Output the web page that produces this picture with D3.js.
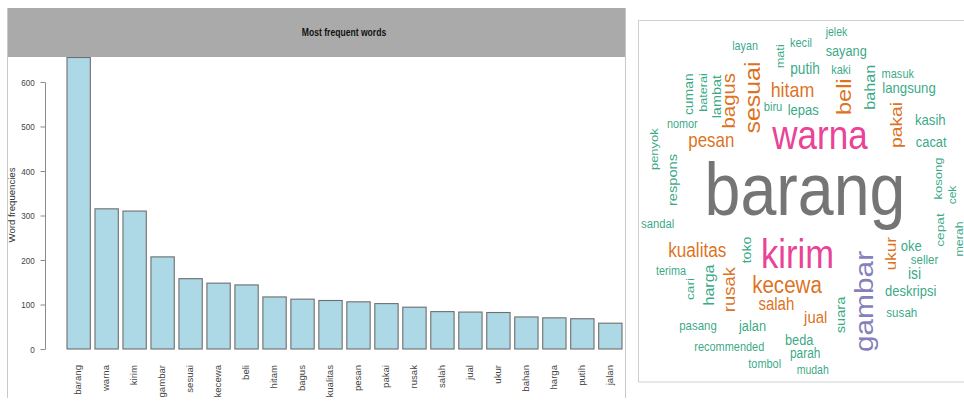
<!DOCTYPE html>
<html>
<head>
<meta charset="utf-8">
<script src="https://cdn.jsdelivr.net/npm/d3@7"></script>
<style>
  body { margin: 0; background: #fff; }
  svg { display: block; font-family: "Liberation Sans", Arial, sans-serif; }
</style>
</head>
<body>
<div id="plot"></div>
<script>
// bar chart: top 20 words
const words = ["barang","warna","kirim","gambar","sesuai","kecewa","beli","hitam","bagus","kualitas",
               "pesan","pakai","rusak","salah","jual","ukur","bahan","harga","putih","jalan"];
const freqs = [655,315,310,207,158,148,144,117,112,109,106,102,94,84,83,82,72,70,68,58];
const yTicks = [0,100,200,300,400,500,600];

// word cloud: word, frequency, layout position (cloud units), vertical flag
const cloudWords = ["barang","warna","kirim","gambar","sesuai","kecewa","beli","hitam","bagus","kualitas",
  "pesan","pakai","rusak","salah","jual","ukur","bahan","harga","putih","jalan",
  "layan","mati","kecil","jelek","sayang","kaki","masuk","langsung","kasih","cacat",
  "kosong","cek","cepat","merah","oke","seller","isi","deskripsi","susah","suara",
  "cari","terima","toko","sandal","pasang","recommended","tombol","beda","parah","mudah",
  "lambat","baterai","cuman","biru","lepas","nomor","penyok","respons"];
const cloudFreq = [655,315,310,207,158,148,144,117,112,109,106,102,94,84,83,82,72,70,68,58,
  35,37,38,32,58,37,38,63,63,60,
  40,30,47,34,61,44,72,61,45,56,
  45,36,51,41,43,37,37,58,48,32,
  54,36,49,40,61,36,39,56];
const cloudX = [167,182,159.5,228.4,116.5,149,207.5,154.5,92.6,59.3,
  73.3,260,93.2,138.3,177.7,253.8,233.4,72,167,114.5,
  107,142.8,163,198.5,208.2,203,259.8,271,292.3,293.2,
  301.3,315,302.5,322.2,273.2,286.5,276.5,272.7,263.8,203.5,
  53.3,33,109.8,19.7,60,91.3,126.7,161.2,167.2,174.7,
  79.8,65.9,52.2,135,165.2,44.3,17,36];
const cloudY = [175,118,237.5,281.5,77.5,266.7,76.7,71.8,80.8,232.2,
  121.7,105,269.7,285.5,298.3,233.7,67.2,265,50.3,306.7,
  26.7,36.3,23.7,12.8,31.7,50.5,54.2,69.2,100.5,123.2,
  158.5,175,210,219,226.8,240.7,254.8,272,293.3,295,
  269,251.7,230,205,306.7,327.3,345,321.2,334.5,351.2,
  76.7,72.5,74.2,88,91.2,105,129.2,160];
const cloudRot = [0,0,0,1,1,0,1,0,1,0,
  0,1,1,0,0,1,1,1,0,0,
  0,1,0,0,0,0,0,0,0,0,
  1,1,1,1,0,0,0,0,0,1,
  1,0,1,0,0,0,0,0,0,0,
  1,1,1,0,0,0,1,1];

const dark2 = ["#1b9e77","#d95f02","#7570b3","#e7298a","#66a61e","#e6ab02","#a6761d","#666666"];
const squeeze = 0.86; // the reference picture is slightly narrowed

const svg = d3.select("#plot").append("svg")
  .attr("width", 964)
  .attr("height", 409);

// ---------- left panel: bar chart ----------
const left = svg.append("g");

const x = d3.scaleBand()
  .domain(words)
  .range([67, 622])
  .paddingInner(1 / 6)
  .paddingOuter(0);

const y = d3.scaleLinear()
  .domain([0, 600])
  .range([349, 82]);

left.selectAll(".bar")
  .data(words)
  .enter()
  .append("rect")
  .attr("class", "bar")
  .attr("x", d => x(d))
  .attr("y", (d, i) => y(freqs[i]))
  .attr("width", x.bandwidth())
  .attr("height", (d, i) => y(0) - y(freqs[i]))
  .style("fill", "#add8e6")
  .style("stroke", "#6e6e6e")
  .style("stroke-width", 1.1);

// header strip and frame
left.append("rect")
  .attr("x", 7).attr("y", 8)
  .attr("width", 618).attr("height", 49)
  .style("fill", "#aaaaaa");

left.append("line")
  .attr("x1", 7.5).attr("x2", 7.5).attr("y1", 8).attr("y2", 398)
  .style("stroke", "#c8c8c8");
left.append("line")
  .attr("x1", 625.5).attr("x2", 625.5).attr("y1", 8).attr("y2", 398)
  .style("stroke", "#c8c8c8");

left.append("text")
  .attr("transform", `translate(344,35.5) scale(${squeeze},1)`)
  .attr("text-anchor", "middle")
  .style("font-size", "10px")
  .style("font-weight", "bold")
  .style("fill", "#111")
  .text("Most frequent words");

// y axis
const yAxis = left.append("g")
  .attr("transform", "translate(45,0)")
  .call(d3.axisLeft(y).tickValues(yTicks).tickSize(4.5).tickSizeOuter(0));

yAxis.select(".domain").style("stroke", "#8a8a8a");
yAxis.selectAll(".tick line").style("stroke", "#8a8a8a");
yAxis.selectAll(".tick text")
  .attr("x", -12)
  .attr("transform", `scale(${squeeze},1)`)
  .style("font-size", "9.4px")
  .style("font-family", "'Liberation Sans', Arial, sans-serif")
  .style("fill", "#444");

left.append("text")
  .attr("transform", `translate(12.5,205) scale(${squeeze},1) rotate(-90)`)
  .attr("text-anchor", "middle")
  .attr("dy", "0.26em")
  .style("font-size", "9.6px")
  .style("fill", "#333")
  .text("Word frequencies");

// x labels, vertical
left.selectAll(".xlab")
  .data(words)
  .enter()
  .append("text")
  .attr("class", "xlab")
  .attr("transform", d => `translate(${x(d) + x.bandwidth() / 2},365) scale(${squeeze},1) rotate(-90)`)
  .attr("text-anchor", "end")
  .attr("dy", "0.33em")
  .style("font-size", "9.6px")
  .style("fill", "#444")
  .text(d => d);

// ---------- right panel: word cloud ----------
const right = svg.append("g");

right.append("rect")
  .attr("x", 638.5).attr("y", 20.5)
  .attr("width", 340).attr("height", 361.5)
  .style("fill", "none")
  .style("stroke", "#d0d0d0");

const cx = d3.scaleLinear().domain([0, 326]).range([638, 964]);
const cy = d3.scaleLinear().domain([0, 362]).range([20, 382]);
const fontSize = d3.scaleLinear().domain([0, 655]).range([9, 75]);
const color = d3.scaleQuantize().domain([0, 655]).range(dark2);

const cloud = cloudWords.map((w, i) => ({
  word: w, freq: cloudFreq[i], x: cloudX[i], y: cloudY[i], rot: cloudRot[i]
}));

right.selectAll(".word")
  .data(cloud)
  .enter()
  .append("text")
  .attr("class", "word")
  .attr("transform", d => `translate(${cx(d.x)},${cy(d.y)}) scale(${squeeze},1)` + (d.rot ? " rotate(-90)" : ""))
  .attr("text-anchor", "middle")
  .attr("dy", "0.26em")
  .style("font-size", d => fontSize(d.freq) + "px")
  .style("fill", d => color(d.freq))
  .style("fill-opacity", 0.9)
  .text(d => d.word);
</script>
</body>
</html>
